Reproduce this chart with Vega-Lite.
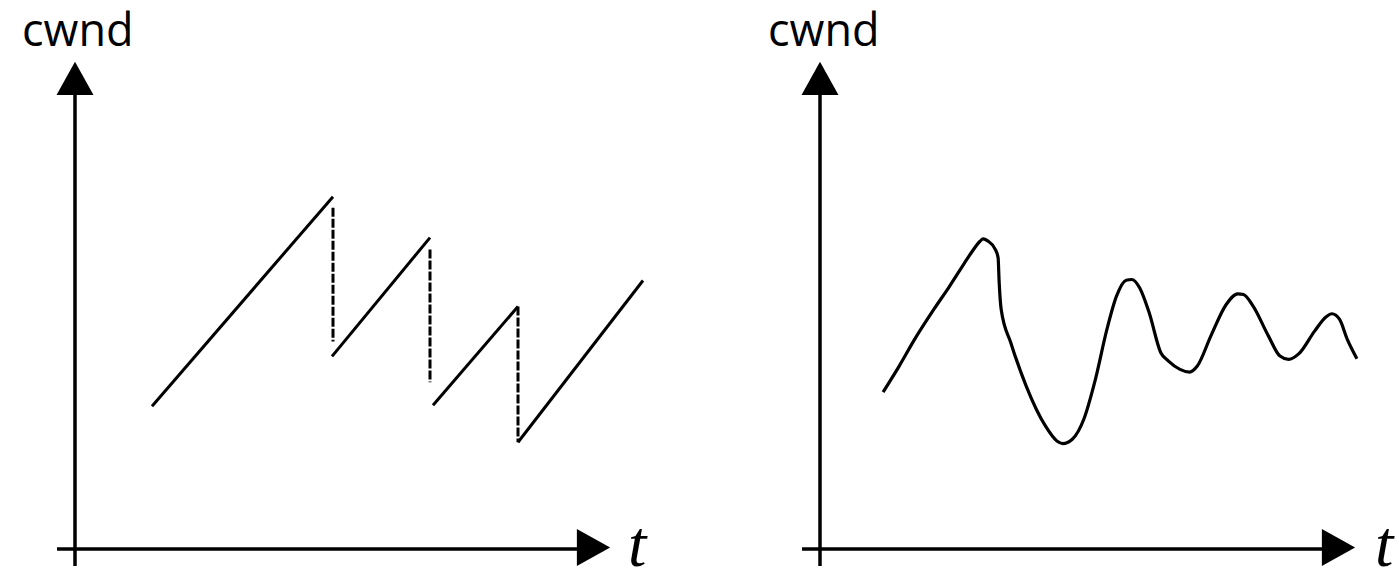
{
  "$schema": "https://vega.github.io/schema/vega-lite/v6.json",
  "width": 1399,
  "height": 579,
  "padding": 0,
  "autosize": {"type": "fit", "contains": "padding"},
  "background": "white",
  "config": {"view": {"stroke": null}},
  "datasets": {
    "axes": [
      {"t": 75, "cwnd": 12, "t2": 75, "cwnd2": 499},
      {"t": 57, "cwnd": 29, "t2": 590, "cwnd2": 29},
      {"t": 820, "cwnd": 12, "t2": 820, "cwnd2": 499},
      {"t": 802, "cwnd": 29, "t2": 1335, "cwnd2": 29}
    ],
    "heads": [
      {"t": 75, "cwnd": 500.5, "dir": "up"},
      {"t": 593.5, "cwnd": 30.5, "dir": "right"},
      {"t": 820, "cwnd": 500.5, "dir": "up"},
      {"t": 1338.5, "cwnd": 30.5, "dir": "right"}
    ],
    "sawtooth": [
      {"seg": 1, "t": 152, "cwnd": 172},
      {"seg": 1, "t": 333, "cwnd": 382},
      {"seg": 2, "t": 332, "cwnd": 222},
      {"seg": 2, "t": 430, "cwnd": 341},
      {"seg": 3, "t": 433, "cwnd": 173},
      {"seg": 3, "t": 518, "cwnd": 272},
      {"seg": 4, "t": 518, "cwnd": 136},
      {"seg": 4, "t": 643, "cwnd": 298}
    ],
    "drops": [
      {"t": 333, "top": 371, "bottom": 237},
      {"t": 430, "top": 329, "bottom": 196},
      {"t": 518, "top": 272, "bottom": 136}
    ],
    "smooth": [
      {"t": 883.1, "cwnd": 186.3},
      {"t": 899.2, "cwnd": 212.3},
      {"t": 914.6, "cwnd": 239},
      {"t": 933.8, "cwnd": 269},
      {"t": 949.2, "cwnd": 291.7},
      {"t": 964.6, "cwnd": 315.7},
      {"t": 972.3, "cwnd": 327.3},
      {"t": 980, "cwnd": 337.3},
      {"t": 983.1, "cwnd": 339.7},
      {"t": 987.7, "cwnd": 337.7},
      {"t": 995.4, "cwnd": 329},
      {"t": 998.1, "cwnd": 320.7},
      {"t": 999.2, "cwnd": 295.7},
      {"t": 1001.2, "cwnd": 269},
      {"t": 1010.8, "cwnd": 235.7},
      {"t": 1026.2, "cwnd": 192.3},
      {"t": 1045.4, "cwnd": 152.3},
      {"t": 1056.9, "cwnd": 137.3},
      {"t": 1062.7, "cwnd": 134.7},
      {"t": 1072.3, "cwnd": 139},
      {"t": 1083.8, "cwnd": 159},
      {"t": 1095.4, "cwnd": 199},
      {"t": 1106.9, "cwnd": 249},
      {"t": 1116.5, "cwnd": 282.3},
      {"t": 1126.2, "cwnd": 298.3},
      {"t": 1131.9, "cwnd": 299},
      {"t": 1139.6, "cwnd": 290.7},
      {"t": 1149.2, "cwnd": 265.7},
      {"t": 1160.8, "cwnd": 225.7},
      {"t": 1168.5, "cwnd": 217.3},
      {"t": 1180, "cwnd": 209},
      {"t": 1189.6, "cwnd": 206.3},
      {"t": 1197.3, "cwnd": 212.3},
      {"t": 1210.8, "cwnd": 242.3},
      {"t": 1226.2, "cwnd": 274},
      {"t": 1237.7, "cwnd": 284.7},
      {"t": 1243.5, "cwnd": 284},
      {"t": 1253.1, "cwnd": 272.3},
      {"t": 1268.5, "cwnd": 242.3},
      {"t": 1280, "cwnd": 222.3},
      {"t": 1288.5, "cwnd": 219},
      {"t": 1299.2, "cwnd": 225},
      {"t": 1314.6, "cwnd": 247.3},
      {"t": 1326.2, "cwnd": 261.7},
      {"t": 1331.9, "cwnd": 264.7},
      {"t": 1339.6, "cwnd": 259},
      {"t": 1347.3, "cwnd": 239},
      {"t": 1356.9, "cwnd": 219.7}
    ],
    "ylabels": [
      {"t": 22, "cwnd": 533, "label": "cwnd"},
      {"t": 768, "cwnd": 533, "label": "cwnd"}
    ],
    "xlabels": [
      {"t": 628, "cwnd": 12, "label": "t"},
      {"t": 1375, "cwnd": 12, "label": "t"}
    ]
  },
  "layer": [
    {
      "data": {"name": "axes"},
      "mark": {"type": "rule", "color": "black", "strokeWidth": 3.5},
      "encoding": {
        "x": {"field": "t", "type": "quantitative", "axis": null, "scale": {"domain": [0, 1399], "nice": false, "zero": false}},
        "y": {"field": "cwnd", "type": "quantitative", "axis": null, "scale": {"domain": [0, 579], "nice": false, "zero": false}},
        "x2": {"field": "t2"},
        "y2": {"field": "cwnd2"}
      }
    },
    {
      "data": {"name": "heads"},
      "mark": {"type": "point", "filled": true, "opacity": 1, "color": "black", "size": 1369},
      "encoding": {
        "x": {"field": "t", "type": "quantitative"},
        "y": {"field": "cwnd", "type": "quantitative"},
        "shape": {
          "field": "dir",
          "type": "nominal",
          "legend": null,
          "scale": {"domain": ["up", "right"], "range": ["M0,-0.9L1,0.9L-1,0.9Z", "M0.9,0L-0.9,1L-0.9,-1Z"]}
        }
      }
    },
    {
      "data": {"name": "drops"},
      "mark": {"type": "rule", "color": "black", "strokeWidth": 3, "strokeDash": [9, 2]},
      "encoding": {
        "x": {"field": "t", "type": "quantitative"},
        "y": {"field": "top", "type": "quantitative"},
        "y2": {"field": "bottom"}
      }
    },
    {
      "data": {"name": "sawtooth"},
      "mark": {"type": "line", "color": "black", "strokeWidth": 3},
      "encoding": {
        "x": {"field": "t", "type": "quantitative"},
        "y": {"field": "cwnd", "type": "quantitative"},
        "detail": {"field": "seg", "type": "nominal"}
      }
    },
    {
      "data": {"name": "smooth"},
      "mark": {"type": "line", "color": "black", "strokeWidth": 3.2, "interpolate": "monotone"},
      "encoding": {
        "x": {"field": "t", "type": "quantitative"},
        "y": {"field": "cwnd", "type": "quantitative"}
      }
    },
    {
      "data": {"name": "ylabels"},
      "mark": {"type": "text", "align": "left", "baseline": "alphabetic", "font": "Open Sans", "fontSize": 45, "color": "black"},
      "encoding": {
        "x": {"field": "t", "type": "quantitative"},
        "y": {"field": "cwnd", "type": "quantitative"},
        "text": {"field": "label"}
      }
    },
    {
      "data": {"name": "xlabels"},
      "mark": {"type": "text", "align": "left", "baseline": "alphabetic", "font": "Liberation Serif", "fontStyle": "italic", "fontSize": 66, "color": "black"},
      "encoding": {
        "x": {"field": "t", "type": "quantitative"},
        "y": {"field": "cwnd", "type": "quantitative"},
        "text": {"field": "label"}
      }
    }
  ]
}
